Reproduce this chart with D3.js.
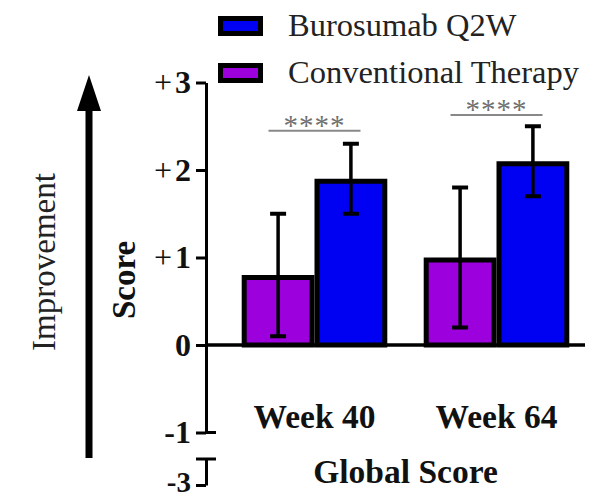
<!DOCTYPE html>
<html>
<head>
<meta charset="utf-8">
<script src="https://cdn.jsdelivr.net/npm/d3@7"></script>
<style>
  body { margin: 0; background: #fff; }
  svg { display: block; font-family: "Times New Roman", "Liberation Serif", serif; }
</style>
</head>
<body>
<div id="chart-container"></div>
<script>

// DATA //

const weeks = ["Week 40", "Week 64"];
const groups = ["Conventional Therapy", "Burosumab Q2W"];
const conventionalMean = [0.8, 1.0];
const conventionalErr = [0.7, 0.8];
const burosumabMean = [1.9, 2.1];
const burosumabErr = [0.4, 0.4];
const sigLabels = ["****", "****"];
const sigHeights = [2.45, 2.63];
const yTicks = [-1, 0, 1, 2, 3];
const yTickLabels = ["-1", "0", "+1", "+2", "+3"];
const yBreakTicks = [-3];
const yBreakLabels = ["-3"];

const rows = weeks.map((w, i) => ({
  week: w,
  sig: sigLabels[i],
  sigY: sigHeights[i],
  values: [
    { group: groups[0], mean: conventionalMean[i], err: conventionalErr[i] },
    { group: groups[1], mean: burosumabMean[i], err: burosumabErr[i] }
  ]
}));

// colors
const color = d3.scaleOrdinal()
  .domain(groups)
  .range(["#9c00dc", "#0000f2"]);

// SVG //

const svg = d3.select("#chart-container")
  .append("svg")
    .attr("width", 595)
    .attr("height", 500);

// scales
const axisX = 206;

const y = d3.scaleLinear()
  .domain([-1, 3])
  .range([432.5, 82.5]);

// lower piece of the broken axis
const yLow = d3.scaleLinear()
  .domain([-3, -2.7])
  .range([485, 459]);

const x0 = d3.scaleBand()
  .domain(weeks)
  .range([205.3, 605.7])
  .paddingInner(0.2)
  .paddingOuter(0.2);

const x1 = d3.scaleBand()
  .domain(groups)
  .range([0, x0.bandwidth()]);

const sw = 5;

// bars
const groupG = svg.selectAll("g.week")
  .data(rows)
  .join("g")
    .attr("class", "week")
    .attr("transform", d => `translate(${x0(d.week)},0)`);

groupG.selectAll("rect.bar")
  .data(d => d.values)
  .join("rect")
    .attr("class", "bar")
    .attr("x", d => x1(d.group) + sw / 2)
    .attr("width", x1.bandwidth() - sw)
    .attr("y", d => y(d.mean) + sw / 2)
    .attr("height", d => y(0) - y(d.mean) - sw / 2)
    .attr("fill", d => color(d.group))
    .attr("stroke", "#000")
    .attr("stroke-width", sw);

// error bars
const errG = groupG.selectAll("g.err")
  .data(d => d.values)
  .join("g")
    .attr("class", "err")
    .attr("transform", d => `translate(${x1(d.group) + x1.bandwidth() / 2},0)`);

errG.append("line")
  .attr("y1", d => y(d.mean - d.err))
  .attr("y2", d => y(d.mean + d.err))
  .attr("stroke", "#000")
  .attr("stroke-width", 3.5);

errG.selectAll("line.cap")
  .data(d => [d.mean - d.err, d.mean + d.err])
  .join("line")
    .attr("class", "cap")
    .attr("x1", -8)
    .attr("x2", 8)
    .attr("y1", d => y(d))
    .attr("y2", d => y(d))
    .attr("stroke", "#000")
    .attr("stroke-width", 4);

// zero line
svg.append("line")
  .attr("x1", axisX)
  .attr("x2", 585)
  .attr("y1", y(0))
  .attr("y2", y(0))
  .attr("stroke", "#000")
  .attr("stroke-width", 3.5);

// significance lines
groupG.append("line")
  .attr("x1", x0.bandwidth() / 2 - 46)
  .attr("x2", x0.bandwidth() / 2 + 46)
  .attr("y1", d => y(d.sigY))
  .attr("y2", d => y(d.sigY))
  .attr("stroke", "#888")
  .attr("stroke-width", 2);

groupG.append("text")
  .attr("x", x0.bandwidth() / 2)
  .attr("y", d => y(d.sigY) + 4)
  .attr("text-anchor", "middle")
  .style("font-size", "29px")
  .style("letter-spacing", "1px")
  .style("fill", "#707070")
  .text(d => d.sig);

// x labels
groupG.append("text")
  .attr("x", x0.bandwidth() / 2)
  .attr("y", 428)
  .attr("text-anchor", "middle")
  .style("font-size", "33.5px")
  .style("font-weight", "bold")
  .style("fill", "#111")
  .text(d => d.week);

// Add the y-axis
function tickLabel(sel, labels, ticks, size) {
  sel.selectAll(".tick text").each(function (d) {
    const t = d3.select(this).text(null)
      .style("font-size", size + "px")
      .style("fill", "#111");
    const s = labels[ticks.indexOf(d)];
    if (s[0] === "+") {
      t.append("tspan").style("font-weight", "normal").text("+");
      t.append("tspan").attr("dx", 3).style("font-weight", "bold").text(s.slice(1));
    } else {
      t.append("tspan").style("font-weight", "bold").text(s);
    }
  });
}

const yAxis = svg.append("g")
  .attr("transform", `translate(${axisX},0)`)
  .call(d3.axisLeft(y)
    .tickValues(yTicks)
    .tickSize(10)
    .tickSizeOuter(0)
    .tickPadding(5))
  .attr("font-family", null)
  .call(g => tickLabel(g, yTickLabels, yTicks, 32));

const yAxisLow = svg.append("g")
  .attr("transform", `translate(${axisX},0)`)
  .call(d3.axisLeft(yLow)
    .tickValues(yBreakTicks)
    .tickSize(10)
    .tickSizeOuter(0)
    .tickPadding(5))
  .attr("font-family", null)
  .call(g => tickLabel(g, yBreakLabels, yBreakTicks, 29));

yAxisLow.selectAll(".tick text").attr("y", -3);

[yAxis, yAxisLow].forEach(g => {
  g.selectAll("path, line").attr("stroke-width", 3).attr("stroke", "#000");
});

// caps at the break
svg.append("line")
  .attr("x1", axisX)
  .attr("x2", axisX + 10)
  .attr("y1", y(-1))
  .attr("y2", y(-1))
  .attr("stroke", "#000")
  .attr("stroke-width", 3);

svg.append("line")
  .attr("x1", axisX - 10)
  .attr("x2", axisX + 10)
  .attr("y1", yLow(-2.7))
  .attr("y2", yLow(-2.7))
  .attr("stroke", "#000")
  .attr("stroke-width", 3);

// axis titles
svg.append("text")
  .attr("transform", "translate(135,280) rotate(-90)")
  .attr("text-anchor", "middle")
  .style("font-size", "33px")
  .style("font-weight", "bold")
  .style("fill", "#111")
  .text("Score");

svg.append("text")
  .attr("transform", "translate(55,262) rotate(-90)")
  .attr("text-anchor", "middle")
  .style("font-size", "33px")
  .style("fill", "#222")
  .text("Improvement");

svg.append("text")
  .attr("x", (x0(weeks[0]) + x0(weeks[1]) + x0.bandwidth()) / 2)
  .attr("y", 483)
  .attr("text-anchor", "middle")
  .style("font-size", "33.5px")
  .style("font-weight", "bold")
  .style("fill", "#111")
  .text("Global Score");

// improvement arrow
svg.append("line")
  .attr("x1", 89)
  .attr("x2", 89)
  .attr("y1", 458)
  .attr("y2", 105)
  .attr("stroke", "#000")
  .attr("stroke-width", 7);

svg.append("path")
  .attr("d", "M89,75 L77,111 L101,111 Z")
  .attr("fill", "#000");

// legend
const legend = svg.selectAll("g.legend")
  .data([groups[1], groups[0]])
  .join("g")
    .attr("class", "legend")
    .attr("transform", (d, i) => `translate(218,${16 + i * 47})`);

legend.append("rect")
  .attr("x", sw / 2)
  .attr("y", sw / 2)
  .attr("width", 45 - sw)
  .attr("height", 20 - sw)
  .attr("fill", d => color(d))
  .attr("stroke", "#000")
  .attr("stroke-width", sw);

legend.append("text")
  .attr("x", 70)
  .attr("y", 20)
  .style("font-size", "32.5px")
  .style("fill", "#222")
  .text(d => d);

</script>
</body>
</html>
